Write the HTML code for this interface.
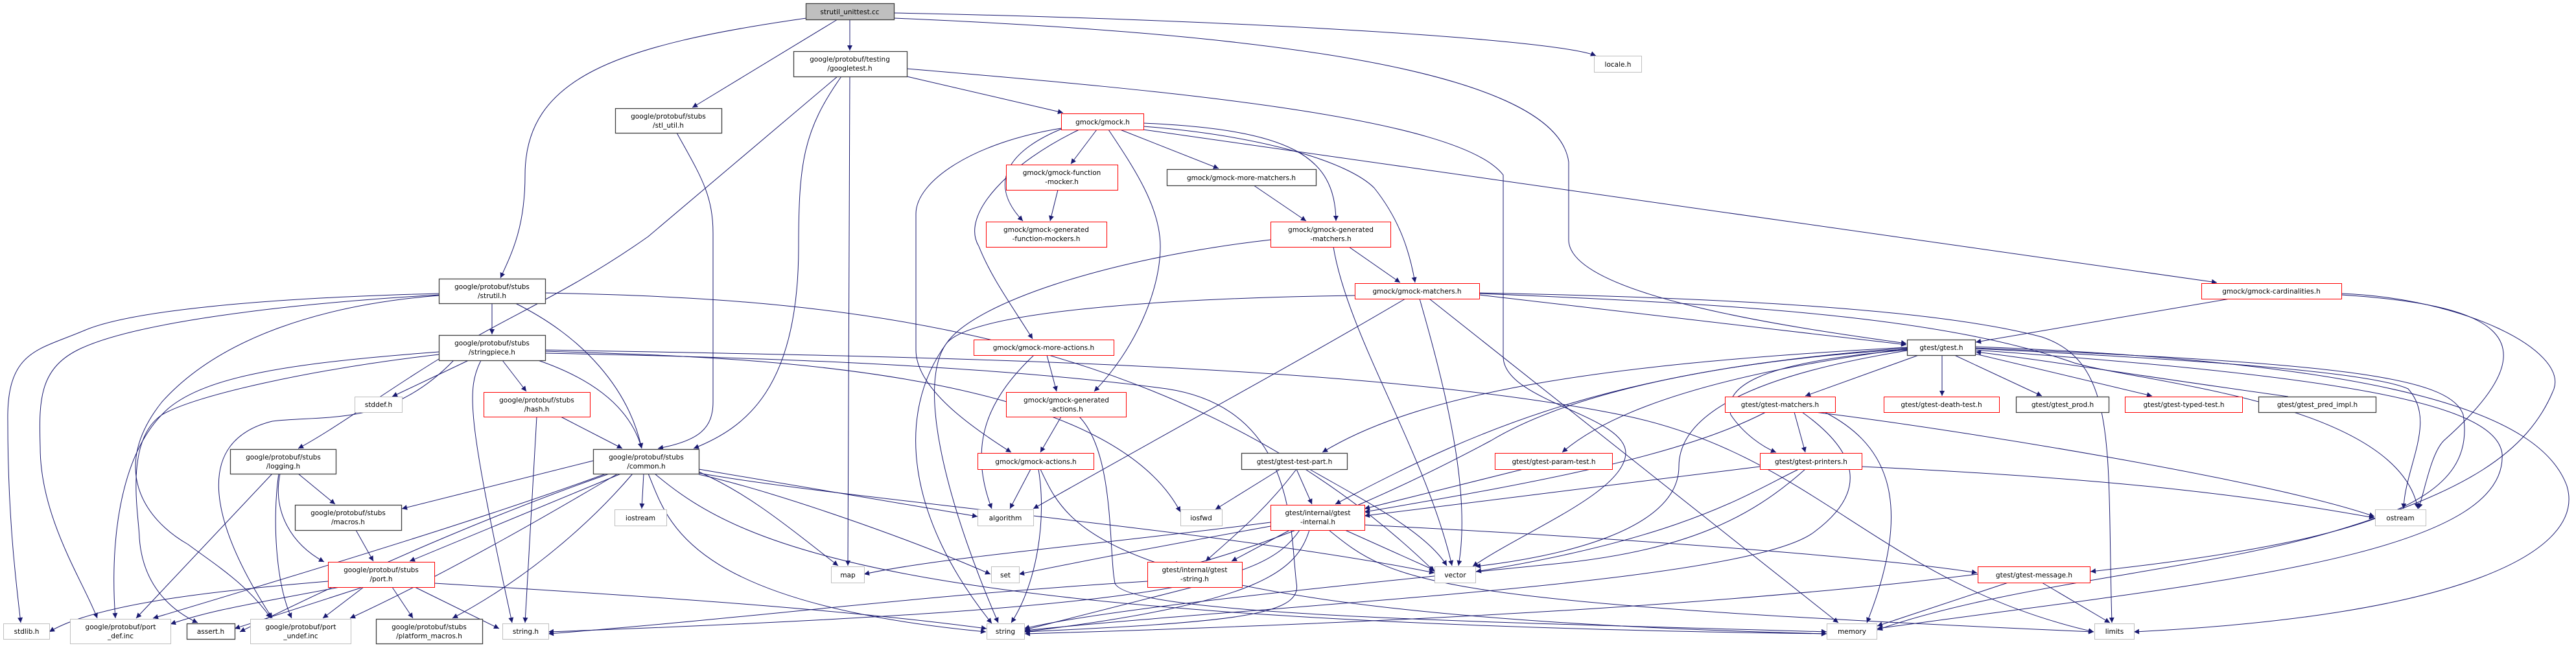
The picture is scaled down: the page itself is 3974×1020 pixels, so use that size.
<!DOCTYPE html>
<html><head><meta charset="utf-8"><style>
html,body{margin:0;padding:0;background:#fff;}
svg{display:block;}
text{font-family:"DejaVu Sans","Liberation Sans",sans-serif;font-size:10.5px;fill:#000;text-anchor:middle;}
.e{fill:none;stroke:#191970;stroke-width:1;}
.n{fill:#fff;stroke:#404040;stroke-width:1.3;}
.r{fill:#fff;stroke:#ff0000;stroke-width:1;}
.g{fill:#fff;stroke:#bfbfbf;stroke-width:1;}
</style></head><body>
<svg width="3974" height="1020" viewBox="0 0 3974 1020" xmlns="http://www.w3.org/2000/svg">
<defs><marker id="a" viewBox="0 0 10 10" refX="10" refY="5" markerWidth="10" markerHeight="8" markerUnits="userSpaceOnUse" orient="auto"><path d="M0,0 L10,5 L0,10 z" fill="#191970"/></marker></defs>
<g class="e" marker-end="url(#a)">
<!-- root -->
<path d="M1244,28 C950,70 810,120 810,270 C810,350 790,390 772,429"/>
<path d="M1292,30 L1068,166"/>
<path d="M1311,31 L1311,78"/>
<path d="M1379,20 C1900,30 2400,60 2462,86"/>
<path d="M1379,28 C1900,50 2400,100 2420,250 L2420,370 C2420,460 2800,510 2941,530"/>
<!-- googletest -->
<path d="M1292,118 L1000,365 C880,450 780,490 700,540 C600,600 520,660 460,692"/>
<path d="M1298,118 C1240,200 1232,250 1232,380 C1232,600 1150,660 1070,692"/>
<path d="M1311,118 L1308,873"/>
<path d="M1399,118 L1640,174"/>
<path d="M1399,106 C1800,140 2250,180 2319,270 L2319,550 C2319,620 2510,640 2508,700 C2505,760 2350,820 2272,874"/>
<!-- stl_util -->
<path d="M1044,205 C1080,270 1100,300 1100,360 L1100,620 C1100,660 1080,680 1015,692"/>
<!-- gmock.h -->
<path d="M1692,200 L1652,253"/>
<path d="M1640,198 C1560,230 1520,280 1578,341"/>
<path d="M1728,200 L1880,260"/>
<path d="M1764,190 C1990,200 2060,240 2061,341"/>
<path d="M1764,195 C1950,210 2080,250 2120,290 C2160,340 2175,390 2183,436"/>
<path d="M1764,200 L3420,436"/>
<path d="M1665,200 C1560,250 1480,330 1510,380 C1530,430 1560,470 1593,523"/>
<path d="M1710,200 C1750,260 1790,320 1790,380 C1790,450 1750,540 1688,604"/>
<path d="M1637,198 C1500,220 1413,280 1413,330 L1413,540 C1413,600 1500,660 1560,698"/>
<!-- fmocker -->
<path d="M1632,293 L1620,341"/>
<!-- more matchers -->
<path d="M1934,286 L2015,341"/>
<!-- gen matchers -->
<path d="M2081,381 L2160,436"/>
<path d="M2057,381 C2080,520 2200,700 2240,873"/>
<path d="M1960,370 C1700,400 1500,470 1460,530 C1380,640 1400,800 1530,962"/>
<!-- gmock-matchers -->
<path d="M2282,455 L2941,532"/>
<path d="M2190,461 C2230,600 2270,760 2250,873"/>
<path d="M2205,461 L2836,961"/>
<path d="M2282,452 C2700,460 3000,480 3150,520 C3270,560 3250,700 3258,961"/>
<path d="M2282,453 C2700,470 3000,490 3200,560 C3300,590 3700,620 3730,785"/>
<path d="M2168,461 C2000,560 1850,640 1594,785"/>
<path d="M2090,456 C1800,460 1500,480 1460,530 C1410,600 1470,800 1540,961"/>
<!-- cardinalities -->
<path d="M3440,461 L3048,528"/>
<path d="M3612,455 C3850,470 3950,520 3770,680 C3750,700 3740,760 3731,785"/>
<path d="M3612,453 C3800,460 3960,540 3940,600 C3900,700 3800,760 3600,820 C3400,880 3100,900 2896,972"/>
<!-- gtest.h -->
<path d="M2960,548 L2785,611"/>
<path d="M2996,548 L2996,611"/>
<path d="M3015,548 L3150,611"/>
<path d="M3047,546 L3320,611"/>
<path d="M3530,612 C3300,580 3150,555 3048,543"/>
<path d="M2942,536 C2500,560 2200,600 2040,698"/>
<path d="M2942,538 C2700,570 2500,620 2410,698"/>
<path d="M2942,540 C2700,560 2660,600 2670,640 C2690,670 2720,690 2740,698"/>
<path d="M2942,537 C2500,570 2300,650 2060,778"/>
<path d="M2942,539 C2600,560 2400,620 2300,680 C2150,760 2050,800 1940,840 C1850,870 1815,880 1815,866"/>
<path d="M2942,541 C2700,580 2590,640 2590,720 C2590,820 2400,860 2276,874"/>
<path d="M3047,538 C3500,560 3670,580 3715,600 C3760,650 3710,720 3708,785"/>
<path d="M3047,535 C3700,560 3920,640 3960,750 C3990,850 3800,950 3292,975"/>
<path d="M3047,540 C3600,580 3850,620 3860,700 C3870,860 3400,900 2896,970"/>
<path d="M3047,537 C3600,560 3780,580 3800,640 C3820,760 3700,830 3225,882"/>
<!-- gtest-matchers -->
<path d="M2768,636 L2785,698"/>
<path d="M2724,636 C2600,700 2400,740 2105,790"/>
<path d="M2800,636 C3000,660 3500,740 3663,797"/>
<path d="M2815,636 C2900,680 2960,760 2880,961"/>
<path d="M2780,636 C2870,700 2880,760 2800,820 C2700,900 2000,930 1580,973"/>
<!-- printers -->
<path d="M2715,720 L2105,796"/>
<path d="M2872,720 C3300,740 3500,770 3663,799"/>
<path d="M2775,724 C2700,760 2600,830 2277,882"/>
<path d="M2785,724 C2700,800 2600,850 2400,870 C2100,900 1700,940 1580,970"/>
<!-- param -->
<path d="M2350,724 L2105,785"/>
<!-- test-part -->
<path d="M2000,724 L2024,778"/>
<path d="M1975,724 L1875,786"/>
<path d="M2000,724 C1950,790 1900,830 1860,866"/>
<path d="M2020,724 C2100,770 2200,820 2232,873"/>
<!-- internal -->
<path d="M1960,806 C1700,840 1450,860 1333,886"/>
<path d="M1960,812 C1750,850 1650,870 1572,886"/>
<path d="M2075,818 L2213,880"/>
<path d="M1990,818 L1900,866"/>
<path d="M2020,818 C2000,880 1950,930 1580,975"/>
<path d="M2105,810 C2500,830 2900,860 3050,884"/>
<path d="M2050,818 C2150,900 2200,930 3230,975"/>
<path d="M2005,818 C1950,900 1800,940 846,975"/>
<!-- gtest-string -->
<path d="M1840,906 L1581,972"/>
<path d="M1770,897 C1400,920 1200,950 846,978"/>
<!-- message -->
<path d="M3150,899 L3255,961"/>
<path d="M3098,899 L2896,966"/>
<path d="M3051,886 C2700,930 2200,960 1581,978"/>
<!-- more actions -->
<path d="M1615,548 L1630,604"/>
<path d="M1595,548 C1530,610 1490,680 1530,785"/>
<!-- gen actions -->
<path d="M1637,643 L1605,698"/>
<path d="M1665,643 C1720,700 1710,850 1720,900 C1740,950 2300,960 2818,975"/>
<!-- actions -->
<path d="M1590,724 L1558,785"/>
<path d="M1602,724 C1615,800 1600,900 1560,961"/>
<path d="M1605,724 C1650,820 1700,950 2818,978"/>
<!-- strutil -->
<path d="M759,468 L759,516"/>
<path d="M795,468 C900,520 970,600 990,692"/>
<path d="M677,453 C400,460 200,480 130,510 C60,540 10,540 12,650 C12,800 25,900 32,961"/>
<path d="M677,455 C420,470 200,500 120,540 C60,570 60,620 62,690 C62,800 130,900 150,954"/>
<path d="M677,456 C500,470 340,520 250,620 C170,720 220,800 290,840 C330,870 380,900 418,954"/>
<path d="M841,452 C1200,460 1800,480 2213,882"/>
<!-- stringpiece -->
<path d="M723,556 L605,612"/>
<path d="M775,556 L812,604"/>
<path d="M830,556 C900,580 970,620 990,692"/>
<path d="M742,556 C720,600 720,640 790,961"/>
<path d="M700,556 C600,660 500,640 420,650 C300,680 320,800 420,954"/>
<path d="M677,543 C450,560 320,580 260,630 C180,700 170,850 178,954"/>
<path d="M677,547 C480,570 300,610 250,640 C190,680 215,800 215,830 C220,900 260,940 305,961"/>
<path d="M841,542 C1100,550 1700,560 1821,790"/>
<path d="M841,540 C1400,550 2100,560 2500,640 C2800,700 2900,900 3230,975"/>
<path d="M841,545 C1100,550 1500,560 1800,600 C2000,630 1990,820 2000,900 C2010,950 1900,960 1580,975"/>
<!-- hash -->
<path d="M865,643 L960,692"/>
<path d="M828,643 L810,961"/>
<!-- logging -->
<path d="M460,731 L517,778"/>
<path d="M432,731 C420,790 450,840 500,867"/>
<path d="M420,731 L210,954"/>
<path d="M430,731 C420,800 425,900 450,954"/>
<!-- macros -->
<path d="M549,818 L576,866"/>
<!-- common -->
<path d="M915,711 L620,785"/>
<path d="M958,731 L632,866"/>
<path d="M993,731 L990,785"/>
<path d="M1078,724 L1508,797"/>
<path d="M1078,728 C1150,760 1200,800 1293,873"/>
<path d="M1078,732 C1200,760 1400,830 1528,886"/>
<path d="M1078,730 C1300,770 1900,820 2213,884"/>
<path d="M1000,731 C1030,800 1050,930 1521,975"/>
<path d="M1010,731 C1150,850 1400,960 2818,978"/>
<path d="M935,731 C800,780 650,830 236,954"/>
<path d="M953,731 C870,780 700,880 540,954"/>
<path d="M976,731 C900,820 800,900 698,954"/>
<path d="M940,731 C800,780 600,860 370,975"/>
<!-- port -->
<path d="M506,897 C350,910 150,930 76,975"/>
<path d="M524,906 C400,930 330,940 263,963"/>
<path d="M560,906 L362,970"/>
<path d="M561,906 L498,954"/>
<path d="M605,906 L637,954"/>
<path d="M640,906 L770,970"/>
<path d="M670,900 C1000,920 1300,940 1522,970"/>
</g>
<!-- nodes -->
<rect x="1243.5" y="5.5" width="136" height="25" fill="#bfbfbf" stroke="#404040" stroke-width="1.3"/><text x="1311" y="22">strutil_unittest.cc</text>
<rect class="n" x="1224.5" y="79.5" width="175" height="39"/><text x="1311" y="95">google/protobuf/testing</text><text x="1311" y="109">/googletest.h</text>
<rect class="n" x="949.5" y="167.5" width="164" height="38"/><text x="1031" y="183">google/protobuf/stubs</text><text x="1031" y="197">/stl_util.h</text>
<rect class="n" x="677.5" y="430.5" width="164" height="38"/><text x="759" y="446">google/protobuf/stubs</text><text x="759" y="460">/strutil.h</text>
<rect class="n" x="677.5" y="517.5" width="164" height="39"/><text x="759" y="533">google/protobuf/stubs</text><text x="759" y="547">/stringpiece.h</text>
<rect class="g" x="547.5" y="612.5" width="73" height="24"/><text x="584" y="628">stddef.h</text>
<rect class="r" x="746.5" y="605.5" width="164" height="38"/><text x="828" y="621">google/protobuf/stubs</text><text x="828" y="635">/hash.h</text>
<rect class="n" x="355.5" y="693.5" width="163" height="38"/><text x="437" y="709">google/protobuf/stubs</text><text x="437" y="723">/logging.h</text>
<rect class="n" x="915.5" y="693.5" width="163" height="38"/><text x="997" y="709">google/protobuf/stubs</text><text x="997" y="723">/common.h</text>
<rect class="n" x="455.5" y="779.5" width="164" height="39"/><text x="537" y="795">google/protobuf/stubs</text><text x="537" y="809">/macros.h</text>
<rect class="r" x="506.5" y="867.5" width="164" height="39"/><text x="588" y="883">google/protobuf/stubs</text><text x="588" y="897">/port.h</text>
<rect class="g" x="948.5" y="786.5" width="80" height="25"/><text x="988" y="803">iostream</text>
<rect class="g" x="5.5" y="962.5" width="71" height="24"/><text x="41" y="978">stdlib.h</text>
<rect class="g" x="108.5" y="955.5" width="155" height="38"/><text x="186" y="971">google/protobuf/port</text><text x="186" y="985">_def.inc</text>
<rect class="n" x="288.5" y="962.5" width="74" height="24"/><text x="325" y="978">assert.h</text>
<rect class="g" x="386.5" y="955.5" width="155" height="38"/><text x="464" y="971">google/protobuf/port</text><text x="464" y="985">_undef.inc</text>
<rect class="n" x="580.5" y="955.5" width="164" height="38"/><text x="662" y="971">google/protobuf/stubs</text><text x="662" y="985">/platform_macros.h</text>
<rect class="g" x="775.5" y="962.5" width="71" height="24"/><text x="811" y="978">string.h</text>
<rect class="r" x="1637.5" y="175.5" width="127" height="25"/><text x="1701" y="192">gmock/gmock.h</text>
<rect class="r" x="1552.5" y="254.5" width="172" height="39"/><text x="1638" y="270">gmock/gmock-function</text><text x="1638" y="284">-mocker.h</text>
<rect class="r" x="1521.5" y="342.5" width="186" height="39"/><text x="1614" y="358">gmock/gmock-generated</text><text x="1614" y="372">-function-mockers.h</text>
<rect class="n" x="1800.5" y="261.5" width="230" height="25"/><text x="1915" y="278">gmock/gmock-more-matchers.h</text>
<rect class="r" x="1960.5" y="342.5" width="185" height="39"/><text x="2053" y="358">gmock/gmock-generated</text><text x="2053" y="372">-matchers.h</text>
<rect class="r" x="2090.5" y="437.5" width="192" height="24"/><text x="2186" y="453">gmock/gmock-matchers.h</text>
<rect class="r" x="1502.5" y="524.5" width="216" height="24"/><text x="1610" y="540">gmock/gmock-more-actions.h</text>
<rect class="r" x="1552.5" y="605.5" width="185" height="38"/><text x="1645" y="621">gmock/gmock-generated</text><text x="1645" y="635">-actions.h</text>
<rect class="r" x="1508.5" y="699.5" width="179" height="25"/><text x="1598" y="716">gmock/gmock-actions.h</text>
<rect class="g" x="1508.5" y="786.5" width="86" height="25"/><text x="1551" y="803">algorithm</text>
<rect class="g" x="1821.5" y="786.5" width="64" height="25"/><text x="1853" y="803">iosfwd</text>
<rect class="g" x="1282.5" y="874.5" width="51" height="25"/><text x="1308" y="891">map</text>
<rect class="g" x="1529.5" y="874.5" width="43" height="25"/><text x="1551" y="891">set</text>
<rect class="r" x="1770.5" y="867.5" width="146" height="39"/><text x="1843" y="883">gtest/internal/gtest</text><text x="1843" y="897">-string.h</text>
<rect class="g" x="1522.5" y="962.5" width="58" height="24"/><text x="1551" y="978">string</text>
<rect class="n" x="1915.5" y="699.5" width="163" height="25"/><text x="1997" y="716">gtest/gtest-test-part.h</text>
<rect class="r" x="1960.5" y="779.5" width="145" height="39"/><text x="2033" y="795">gtest/internal/gtest</text><text x="2033" y="809">-internal.h</text>
<rect class="g" x="2459.5" y="86.5" width="73" height="25"/><text x="2496" y="103">locale.h</text>
<rect class="n" x="2942.5" y="524.5" width="105" height="24"/><text x="2995" y="540">gtest/gtest.h</text>
<rect class="r" x="2661.5" y="612.5" width="170" height="24"/><text x="2746" y="628">gtest/gtest-matchers.h</text>
<rect class="r" x="2906.5" y="612.5" width="178" height="24"/><text x="2995" y="628">gtest/gtest-death-test.h</text>
<rect class="r" x="2306.5" y="699.5" width="181" height="25"/><text x="2397" y="716">gtest/gtest-param-test.h</text>
<rect class="r" x="2715.5" y="699.5" width="157" height="25"/><text x="2794" y="716">gtest/gtest-printers.h</text>
<rect class="g" x="2213.5" y="874.5" width="63" height="25"/><text x="2245" y="891">vector</text>
<rect class="g" x="2818.5" y="962.5" width="77" height="24"/><text x="2857" y="978">memory</text>
<rect class="r" x="3396.5" y="437.5" width="216" height="24"/><text x="3504" y="453">gmock/gmock-cardinalities.h</text>
<rect class="n" x="3110.5" y="612.5" width="143" height="24"/><text x="3182" y="628">gtest/gtest_prod.h</text>
<rect class="r" x="3278.5" y="612.5" width="181" height="24"/><text x="3369" y="628">gtest/gtest-typed-test.h</text>
<rect class="n" x="3484.5" y="612.5" width="181" height="24"/><text x="3575" y="628">gtest/gtest_pred_impl.h</text>
<rect class="g" x="3664.5" y="786.5" width="78" height="25"/><text x="3703" y="803">ostream</text>
<rect class="r" x="3051.5" y="874.5" width="173" height="25"/><text x="3138" y="891">gtest/gtest-message.h</text>
<rect class="g" x="3231.5" y="962.5" width="61" height="24"/><text x="3262" y="978">limits</text>
</svg>
</body></html>
